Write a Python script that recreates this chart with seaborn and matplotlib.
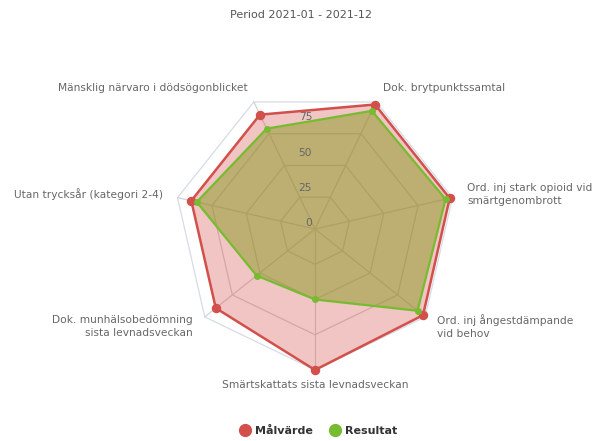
import numpy as np
import matplotlib
matplotlib.use("Agg")
import matplotlib.pyplot as plt
from matplotlib.lines import Line2D
import seaborn as sns
import pandas as pd

# ---- data ----
categories = [
    "Dok. brytpunktssamtal",
    "Ord. inj stark opioid vid\nsmärtgenombrott",
    "Ord. inj ångestdämpande\nvid behov",
    "Smärtskattats sista levnadsveckan",
    "Dok. munhälsobedömning\nsista levnadsveckan",
    "Utan trycksår (kategori 2-4)",
    "Mänsklig närvaro i dödsögonblicket",
]
malvarde = [98, 98, 98, 100, 90, 90, 90]
resultat = [93, 95, 93, 50, 53, 86, 79]
ytick_values = [0, 25, 50, 75]
grid_levels = [25, 50, 75, 100]
title = "Period 2021-01 - 2021-12"
series_names = ["Målvärde", "Resultat"]

RED = "#d2504b"
GREEN = "#77bb30"
GREEN_FILL = "#8a9a20"
LABEL = "#666666"

sns.set_theme(style="white")
plt.rcParams["font.family"] = ["DejaVu Sans"]

W, H = 595, 441
fig = plt.figure(figsize=(W / 100, H / 100), dpi=100)
fig.patch.set_facecolor("white")

cx, cy, R = 315, 229, 141
ax = fig.add_axes([(cx - R) / W, (H - cy - R) / H, 2 * R / W, 2 * R / H], projection="polar")
ax.set_theta_zero_location("N")
ax.set_theta_direction(-1)
ax.set_ylim(0, 100)
ax.grid(False)
ax.spines["polar"].set_visible(False)
ax.patch.set_alpha(0)

n = len(categories)
theta = np.deg2rad(360.0 / n * (np.arange(n) + 0.5))
theta_c = np.append(theta, theta[0])

# grid polygons and spokes
for lv in grid_levels:
    col = "#d5dce6" if lv == 100 else "#d2d2d2"
    ax.plot(theta_c, [lv] * (n + 1), color=col, lw=0.9, zorder=1, clip_on=False)
for t in theta:
    ax.plot([t, t], [0, 100], color="#d2d2d2", lw=0.9, zorder=1, clip_on=False)

# series
for vals, col, fcol, falpha, lw, ms in [(malvarde, RED, RED, 0.33, 1.8, 5.8),
                                         (resultat, GREEN, GREEN_FILL, 0.5, 1.6, 4.0)]:
    v = np.append(vals, vals[0])
    ax.fill(theta_c, v, color=fcol, alpha=falpha, lw=0, zorder=2, clip_on=False)
    df = pd.DataFrame({"t": theta_c, "r": v})
    sns.lineplot(data=df, x="t", y="r", sort=False, estimator=None, ax=ax,
                 color=col, lw=lw, zorder=3, clip_on=False)
    ax.plot(theta, vals, "o", color=col, ms=ms, zorder=4, clip_on=False)

ax.set_xlabel("")
ax.set_ylabel("")
ax.set_xticks([])
ax.set_yticks([])
ax.set_ylim(0, 100)

# y labels
for v in ytick_values:
    ax.annotate(str(v), xy=(0, v), xytext=(-3, 6), textcoords="offset pixels",
                ha="right", va="center", fontsize=7.7, color=LABEL, zorder=5,
                annotation_clip=False)

# category labels
for t, lab in zip(theta, categories):
    deg = np.rad2deg(t)
    dx, dy = 15 * np.sin(t), 15 * np.cos(t)
    if abs(deg - 180) < 1:
        ha = "center"
    elif deg < 180:
        ha = "left"
    else:
        ha = "right"
    ax.annotate(lab, xy=(t, 100), xytext=(dx, dy), textcoords="offset pixels",
                ha=ha, va="center", fontsize=7.7, color=LABEL, linespacing=1.35,
                multialignment=ha,
                annotation_clip=False)

fig.text(301 / W, 1 - 15 / H, title, ha="center", va="center", fontsize=8, color="#555555")

handles = [Line2D([], [], marker="o", ls="", color=RED, ms=8.5),
           Line2D([], [], marker="o", ls="", color=GREEN, ms=8.5)]
leg = fig.legend(handles, series_names, loc="center", bbox_to_anchor=(319 / W, 1 - 431 / H),
                 ncol=2, frameon=False, handlelength=0.8, handletextpad=0.5,
                 columnspacing=1.6, prop={"weight": "bold", "size": 8})
for txt in leg.get_texts():
    txt.set_color("#333333")

fig.savefig("out.png", dpi=100, facecolor="white")
